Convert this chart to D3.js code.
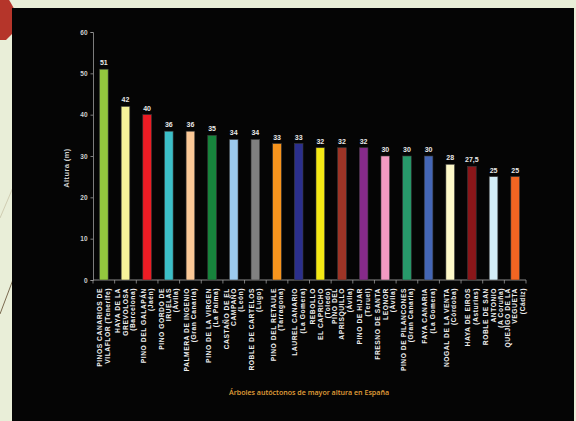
<!DOCTYPE html>
<html>
<head>
<meta charset="utf-8">
<script src="https://cdn.jsdelivr.net/npm/d3@7"></script>
<style>
  html, body { margin: 0; padding: 0; background: #e9eed8; }
  svg { display: block; }
</style>
</head>
<body>
<svg id="chart" width="576" height="421"></svg>
<script>
// Tallest native trees of Spain
const names = [
  ["PINOS CANARIOS DE", "VILAFLOR (Tenerife)"],
  ["HAYA DE LA", "GREVOLOSA", "(Barcelona)"],
  ["PINO DEL GALAPÁN", "(Jaén)"],
  ["PINO GORDO DE", "IRUELAS", "(Ávila)"],
  ["PALMERA DE INGENIO", "(Gran Canaria)"],
  ["PINO DE LA VIRGEN", "(La Palma)"],
  ["CASTAÑO DE EL", "CAMPAÑO", "(León)"],
  ["ROBLE DE CARTELOS", "(Lugo)"],
  ["PINO DEL RETAULE", "(Tarragona)"],
  ["LAUREL CANARIO", "(La Gomera)"],
  ["REBOLLO", "EL CAPRICHO", "(Toledo)"],
  ["PINO DEL", "APRISQUILLO", "(Ávila)"],
  ["PINO DE HIJAR", "(Teruel)"],
  ["FRESNO DE SANTA", "LEONOR", "(Ávila)"],
  ["PINO DE PILANCONES", "(Gran Canaria)"],
  ["FAYA CANARIA", "(La Gomera)"],
  ["NOGAL DE LA VENTA", "(Córdoba)"],
  ["HAYA DE EIROS", "(Asturias)"],
  ["ROBLE DE SAN", "ANTONIO", "(A Coruña)"],
  ["QUEJIGO DE LA", "VEGUETA", "(Cádiz)"]
];
const heights = [51, 42, 40, 36, 36, 35, 34, 34, 33, 33, 32, 32, 32, 30, 30, 30, 28, 27.5, 25, 25];
const colors = [
  "#93c83e", "#f6f39a", "#ec1c24", "#3cbfc8", "#fbc896",
  "#17843c", "#9ccaee", "#808080", "#f7941d", "#2b2f8c",
  "#f4e814", "#9c3426", "#862a8a", "#f39ac2", "#27996a",
  "#4466b5", "#fdf8c8", "#8a1619", "#d3edf7", "#f26522"
];
const yTicks = [0, 10, 20, 30, 40, 50, 60];
const yTitle = "Altura (m)";
const chartTitle = "Árboles autóctonos de mayor altura en España";

const svg = d3.select("#chart");

// page decoration behind the dark panel
svg.append("polygon")
  .attr("points", "0,-2 8,-2 16,12 16,30 6,40 0,40")
  .attr("fill", "#b5352a");
svg.append("line").attr("x1", 0).attr("y1", 218).attr("x2", 14).attr("y2", 185)
  .attr("stroke", "#c9c4a8").attr("stroke-width", 0.8);
svg.append("line").attr("x1", 0).attr("y1", 314).attr("x2", 14).attr("y2", 277)
  .attr("stroke", "#7a6a50").attr("stroke-width", 1);

// dark panel
svg.append("rect").attr("x", 12).attr("y", 8).attr("width", 562).attr("height", 421)
  .attr("fill", "#050505");

const x = d3.scaleBand()
  .domain(d3.range(heights.length))
  .range([93, 526])
  .paddingInner(0.6)
  .paddingOuter(0.3);

const y = d3.scaleLinear().domain([0, 60]).range([280, 32]);

// y axis
const yAxis = svg.append("g").attr("transform", "translate(93,0)")
  .call(d3.axisLeft(y).tickValues(yTicks).tickSize(2.5).tickPadding(3));
yAxis.select(".domain").attr("stroke", "#9a9a9a").attr("stroke-width", 0.8);
yAxis.selectAll(".tick line").attr("stroke", "#9a9a9a").attr("stroke-width", 0.8);
yAxis.selectAll(".tick text")
  .attr("fill", "#d0d0d0")
  .attr("font-family", "'Liberation Sans Narrow', 'Liberation Sans', sans-serif")
  .attr("font-weight", "bold")
  .attr("font-size", 6.5);

// x axis line with ticks at category boundaries
const x0 = 93;
const slot = (526 - 93) / heights.length;
svg.append("line").attr("x1", 93).attr("x2", 526).attr("y1", 280).attr("y2", 280)
  .attr("stroke", "#9a9a9a").attr("stroke-width", 0.9);
svg.append("g").selectAll("line")
  .data(d3.range(heights.length + 1))
  .join("line")
  .attr("x1", i => x0 + i * slot)
  .attr("x2", i => x0 + i * slot)
  .attr("y1", 280).attr("y2", 283.5)
  .attr("stroke", "#9a9a9a").attr("stroke-width", 0.8);

// bars
svg.append("g").selectAll("rect")
  .data(heights)
  .join("rect")
  .attr("x", (d, i) => x(i))
  .attr("y", d => y(d))
  .attr("width", x.bandwidth())
  .attr("height", d => y(0) - y(d))
  .attr("fill", (d, i) => colors[i])
  .attr("stroke", "#3a3a3a")
  .attr("stroke-width", 0.6);

// value labels
svg.append("g").selectAll("text")
  .data(heights)
  .join("text")
  .attr("x", (d, i) => x(i) + x.bandwidth() / 2)
  .attr("y", d => y(d) - 4)
  .attr("text-anchor", "middle")
  .attr("fill", "#e8e8e8")
  .attr("font-family", "'Liberation Sans Narrow', 'Liberation Sans', sans-serif")
  .attr("font-weight", "bold")
  .attr("font-size", 7)
  .text(d => String(d).replace(".", ","));

// rotated category labels
const lineGap = 7.4;
const labels = svg.append("g").selectAll("text")
  .data(names)
  .join("text")
  .attr("transform", (d, i) => {
    const cx = x(i) + x.bandwidth() / 2;
    const first = cx - (d.length - 1) * lineGap / 2;
    return `translate(${first + 2.3},288) rotate(-90)`;
  })
  .attr("text-anchor", "end")
  .attr("fill", "#eeeeee")
  .attr("font-family", "'Liberation Sans', Arial, sans-serif")
  .attr("font-weight", "bold")
  .attr("font-size", 6.7)
  .attr("letter-spacing", 0.55);
labels.each(function(d) {
  const t = d3.select(this);
  d.forEach((line, k) => {
    t.append("tspan").attr("x", 0).attr("y", k * lineGap).text(line);
  });
});

// y axis title
svg.append("text")
  .attr("transform", "translate(69,168) rotate(-90)")
  .attr("text-anchor", "middle")
  .attr("fill", "#cfcfcf")
  .attr("font-family", "'Liberation Sans', Arial, sans-serif")
  .attr("font-weight", "bold")
  .attr("font-size", 7.5)
  .attr("letter-spacing", 0.4)
  .text(yTitle);

// chart title
svg.append("text")
  .attr("x", 229)
  .attr("y", 395)
  .attr("textLength", 160)
  .attr("lengthAdjust", "spacingAndGlyphs")
  .attr("fill", "#e2a03a")
  .attr("font-family", "'Open Sans', 'Liberation Sans', sans-serif")
  .attr("font-weight", "600")
  .attr("font-size", 7.6)
  .text(chartTitle);
</script>
</body>
</html>
